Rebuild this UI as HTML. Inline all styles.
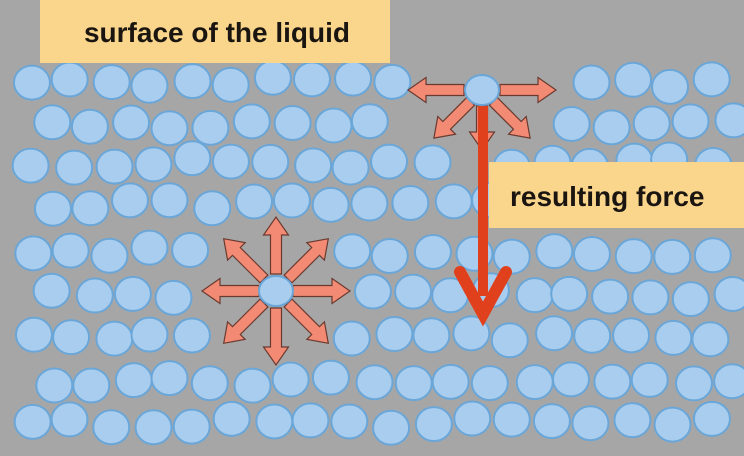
<!DOCTYPE html>
<html><head><meta charset="utf-8"><style>
html,body{margin:0;padding:0;background:#a5a5a5;}
svg{display:block}
</style></head><body>
<svg id="s" width="744" height="456" viewBox="0 0 744 456" xmlns="http://www.w3.org/2000/svg">
<rect width="744" height="456" fill="#a6a6a6"/>
<g id="circles" fill="#a9cdee" stroke="#6aa6d8" stroke-width="2"></g>
<g id="arrows" fill="#f28a74" stroke="#6a3a30" stroke-width="1.2"></g>
<ellipse cx="482" cy="90" rx="17" ry="15" fill="#a9cdee" stroke="#6aa6d8" stroke-width="2"/>
<ellipse cx="276" cy="291" rx="17" ry="15" fill="#a9cdee" stroke="#6aa6d8" stroke-width="2"/>
<rect x="478" y="106" width="10" height="190" fill="#e0401c"/>
<polyline points="460,272 483,314 506,272" fill="none" stroke="#e0401c" stroke-width="12" stroke-linecap="round" stroke-linejoin="miter"/>
<rect x="40" y="0" width="350" height="63" fill="#f9d68b"/>
<text x="217" y="42" text-anchor="middle" font-family="Liberation Sans, sans-serif" font-weight="bold" font-size="28" fill="#1a1510">surface of the liquid</text>
<rect x="489" y="162" width="255" height="66" fill="#f9d68b"/>
<text x="510" y="206" font-family="Liberation Sans, sans-serif" font-weight="bold" font-size="28" fill="#1a1510">resulting force</text>
</svg>
<script>
var NS="http://www.w3.org/2000/svg";
var g=document.getElementById("circles");
var rows=[82,124,163,205,252,295,338,381,423];
var seed=7;function rnd(){seed=(seed*9301+49297)%233280;return seed/233280;}
rows.forEach(function(y,i){
  var off=(i%2)?52:32;
  for(var x=off;x<740;x+=40){
    var cx=x+(rnd()-0.5)*6, cy=y+(rnd()-0.5)*10;
    if(Math.hypot(cx-276,cy-291)<78)continue;
    if(i<=1 && cx>400 && cx<560)continue;
    if(i==2 && cx>455 && cx<510)continue;
    var e=document.createElementNS(NS,"ellipse");
    e.setAttribute("cx",cx);e.setAttribute("cy",cy);e.setAttribute("rx",18);e.setAttribute("ry",17);
    g.appendChild(e);
  }
});
var a=document.getElementById("arrows");
function arrow(cx,cy,ang,r0,len){
  var w=5.5,hw=12.5,hl=18;
  var pts=[[r0,-w],[len-hl,-w],[len-hl,-hw],[len,0],[len-hl,hw],[len-hl,w],[r0,w]];
  var c=Math.cos(ang),s=Math.sin(ang);
  var p=pts.map(function(q){return (cx+q[0]*c-q[1]*s).toFixed(1)+","+(cy+q[0]*s+q[1]*c).toFixed(1);}).join(" ");
  var e=document.createElementNS(NS,"polygon");e.setAttribute("points",p);a.appendChild(e);
}
for(var k=0;k<8;k++){arrow(276,291,k*Math.PI/4,17,74);}
arrow(482,90,0,18,74);arrow(482,90,Math.PI,18,74);
arrow(482,90,Math.PI*0.75,16,68);arrow(482,90,Math.PI*0.25,16,68);
arrow(482,90,Math.PI/2,16,60);
</script>
</body></html>
